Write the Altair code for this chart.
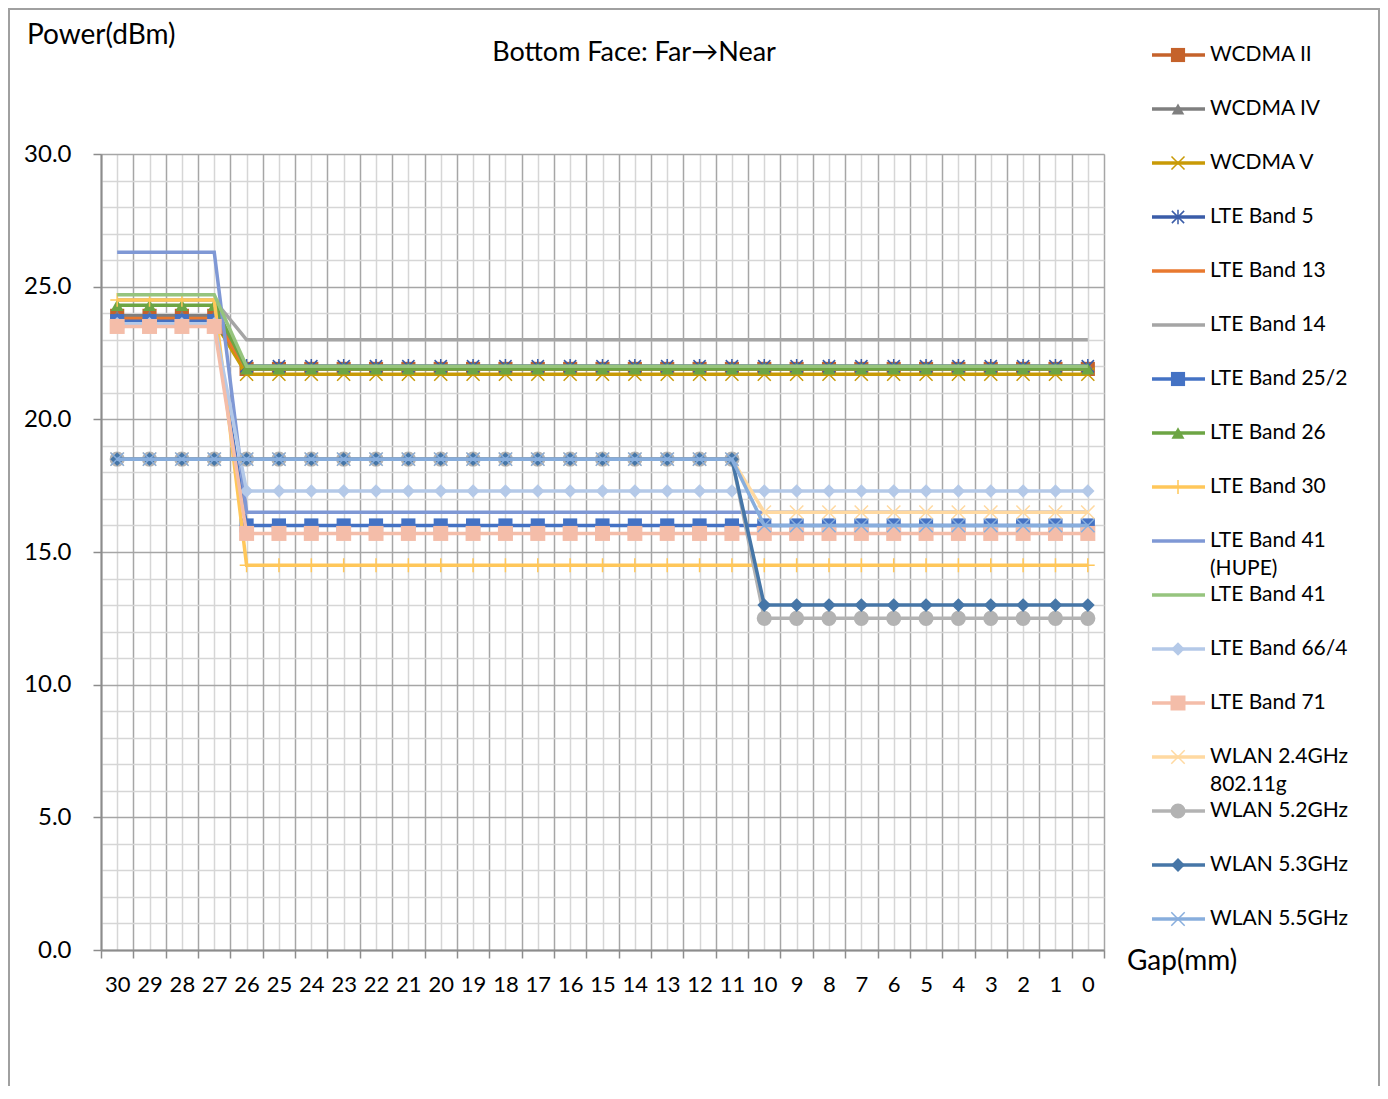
import altair as alt
import pandas as pd

FONT = "Lato"

# ---- data ----
gaps = [30, 29, 28, 27, 26, 25, 24, 23, 22, 21, 20, 19, 18, 17, 16, 15,
        14, 13, 12, 11, 10, 9, 8, 7, 6, 5, 4, 3, 2, 1, 0]

series_names = [
    "WCDMA II", "WCDMA IV", "WCDMA V", "LTE Band 5", "LTE Band 13",
    "LTE Band 14", "LTE Band 25/2", "LTE Band 26", "LTE Band 30",
    "LTE Band 41 (HUPE)", "LTE Band 41", "LTE Band 66/4", "LTE Band 71",
    "WLAN 2.4GHz 802.11g", "WLAN 5.2GHz", "WLAN 5.3GHz", "WLAN 5.5GHz",
]

wcdma_ii = [23.9, 23.9, 23.9, 23.9,
            21.9, 21.9, 21.9, 21.9, 21.9, 21.9, 21.9, 21.9, 21.9,
            21.9, 21.9, 21.9, 21.9, 21.9, 21.9, 21.9, 21.9, 21.9,
            21.9, 21.9, 21.9, 21.9, 21.9, 21.9, 21.9, 21.9, 21.9]
wcdma_iv = [23.9, 23.9, 23.9, 23.9,
            22.0, 22.0, 22.0, 22.0, 22.0, 22.0, 22.0, 22.0, 22.0,
            22.0, 22.0, 22.0, 22.0, 22.0, 22.0, 22.0, 22.0, 22.0,
            22.0, 22.0, 22.0, 22.0, 22.0, 22.0, 22.0, 22.0, 22.0]
wcdma_v = [23.7, 23.7, 23.7, 23.7,
           21.7, 21.7, 21.7, 21.7, 21.7, 21.7, 21.7, 21.7, 21.7,
           21.7, 21.7, 21.7, 21.7, 21.7, 21.7, 21.7, 21.7, 21.7,
           21.7, 21.7, 21.7, 21.7, 21.7, 21.7, 21.7, 21.7, 21.7]
lte_5 = [23.7, 23.7, 23.7, 23.7,
         22.0, 22.0, 22.0, 22.0, 22.0, 22.0, 22.0, 22.0, 22.0,
         22.0, 22.0, 22.0, 22.0, 22.0, 22.0, 22.0, 22.0, 22.0,
         22.0, 22.0, 22.0, 22.0, 22.0, 22.0, 22.0, 22.0, 22.0]
lte_13 = [23.8, 23.8, 23.8, 23.8,
          21.9, 21.9, 21.9, 21.9, 21.9, 21.9, 21.9, 21.9, 21.9,
          21.9, 21.9, 21.9, 21.9, 21.9, 21.9, 21.9, 21.9, 21.9,
          21.9, 21.9, 21.9, 21.9, 21.9, 21.9, 21.9, 21.9, 21.9]
lte_14 = [24.5, 24.5, 24.5, 24.5,
          23.0, 23.0, 23.0, 23.0, 23.0, 23.0, 23.0, 23.0, 23.0,
          23.0, 23.0, 23.0, 23.0, 23.0, 23.0, 23.0, 23.0, 23.0,
          23.0, 23.0, 23.0, 23.0, 23.0, 23.0, 23.0, 23.0, 23.0]
lte_25_2 = [23.7, 23.7, 23.7, 23.7,
            16.0, 16.0, 16.0, 16.0, 16.0, 16.0, 16.0, 16.0, 16.0,
            16.0, 16.0, 16.0, 16.0, 16.0, 16.0, 16.0, 16.0, 16.0,
            16.0, 16.0, 16.0, 16.0, 16.0, 16.0, 16.0, 16.0, 16.0]
lte_26 = [24.3, 24.3, 24.3, 24.3,
          21.9, 21.9, 21.9, 21.9, 21.9, 21.9, 21.9, 21.9, 21.9,
          21.9, 21.9, 21.9, 21.9, 21.9, 21.9, 21.9, 21.9, 21.9,
          21.9, 21.9, 21.9, 21.9, 21.9, 21.9, 21.9, 21.9, 21.9]
lte_30 = [24.5, 24.5, 24.5, 24.5,
          14.5, 14.5, 14.5, 14.5, 14.5, 14.5, 14.5, 14.5, 14.5,
          14.5, 14.5, 14.5, 14.5, 14.5, 14.5, 14.5, 14.5, 14.5,
          14.5, 14.5, 14.5, 14.5, 14.5, 14.5, 14.5, 14.5, 14.5]
lte_41_hupe = [26.3, 26.3, 26.3, 26.3,
               16.5, 16.5, 16.5, 16.5, 16.5, 16.5, 16.5, 16.5, 16.5,
               16.5, 16.5, 16.5, 16.5, 16.5, 16.5, 16.5, 16.5, 16.5,
               16.5, 16.5, 16.5, 16.5, 16.5, 16.5, 16.5, 16.5, 16.5]
lte_41 = [24.7, 24.7, 24.7, 24.7,
          22.0, 22.0, 22.0, 22.0, 22.0, 22.0, 22.0, 22.0, 22.0,
          22.0, 22.0, 22.0, 22.0, 22.0, 22.0, 22.0, 22.0, 22.0,
          22.0, 22.0, 22.0, 22.0, 22.0, 22.0, 22.0, 22.0, 22.0]
lte_66_4 = [23.6, 23.6, 23.6, 23.6,
            17.3, 17.3, 17.3, 17.3, 17.3, 17.3, 17.3, 17.3, 17.3,
            17.3, 17.3, 17.3, 17.3, 17.3, 17.3, 17.3, 17.3, 17.3,
            17.3, 17.3, 17.3, 17.3, 17.3, 17.3, 17.3, 17.3, 17.3]
lte_71 = [23.5, 23.5, 23.5, 23.5,
          15.7, 15.7, 15.7, 15.7, 15.7, 15.7, 15.7, 15.7, 15.7,
          15.7, 15.7, 15.7, 15.7, 15.7, 15.7, 15.7, 15.7, 15.7,
          15.7, 15.7, 15.7, 15.7, 15.7, 15.7, 15.7, 15.7, 15.7]
wlan_24 = [18.5, 18.5, 18.5, 18.5, 18.5, 18.5, 18.5, 18.5, 18.5, 18.5,
           18.5, 18.5, 18.5, 18.5, 18.5, 18.5, 18.5, 18.5, 18.5, 18.5,
           16.5, 16.5, 16.5, 16.5, 16.5, 16.5, 16.5, 16.5, 16.5, 16.5, 16.5]
wlan_52 = [18.5, 18.5, 18.5, 18.5, 18.5, 18.5, 18.5, 18.5, 18.5, 18.5,
           18.5, 18.5, 18.5, 18.5, 18.5, 18.5, 18.5, 18.5, 18.5, 18.5,
           12.5, 12.5, 12.5, 12.5, 12.5, 12.5, 12.5, 12.5, 12.5, 12.5, 12.5]
wlan_53 = [18.5, 18.5, 18.5, 18.5, 18.5, 18.5, 18.5, 18.5, 18.5, 18.5,
           18.5, 18.5, 18.5, 18.5, 18.5, 18.5, 18.5, 18.5, 18.5, 18.5,
           13.0, 13.0, 13.0, 13.0, 13.0, 13.0, 13.0, 13.0, 13.0, 13.0, 13.0]
wlan_55 = [18.5, 18.5, 18.5, 18.5, 18.5, 18.5, 18.5, 18.5, 18.5, 18.5,
           18.5, 18.5, 18.5, 18.5, 18.5, 18.5, 18.5, 18.5, 18.5, 18.5,
           16.0, 16.0, 16.0, 16.0, 16.0, 16.0, 16.0, 16.0, 16.0, 16.0, 16.0]

series_values = [wcdma_ii, wcdma_iv, wcdma_v, lte_5, lte_13, lte_14, lte_25_2,
                 lte_26, lte_30, lte_41_hupe, lte_41, lte_66_4, lte_71,
                 wlan_24, wlan_52, wlan_53, wlan_55]

# legend labels (text lines)
legend_labels = [
    ["WCDMA II"], ["WCDMA IV"], ["WCDMA V"], ["LTE Band 5"], ["LTE Band 13"],
    ["LTE Band 14"], ["LTE Band 25/2"], ["LTE Band 26"], ["LTE Band 30"],
    ["LTE Band 41", "(HUPE)"], ["LTE Band 41"], ["LTE Band 66/4"],
    ["LTE Band 71"], ["WLAN 2.4GHz", "802.11g"], ["WLAN 5.2GHz"],
    ["WLAN 5.3GHz"], ["WLAN 5.5GHz"],
]

# ---- styles ----
colors = ["#C5622B", "#7F7F7F", "#C99A06", "#3A5CA8", "#E8792F",
          "#A5A5A5", "#4472C4", "#6DA544", "#FFC75A", "#7F98D5",
          "#96C47E", "#B4C9E8", "#F4BDA9", "#FFD9A1", "#B3B3B3",
          "#4676A7", "#88AEDD"]
XSHAPE = "M-1,-1L1,1M-1,1L1,-1"
STAR = "M-1,-1L1,1M-1,1L1,-1M0,-1.2L0,1.2"
PLUS = "M0,-1L0,1M-1,0L1,0"
# (shape, size, filled)
markers = [("square", 200, True), ("triangle-up", 160, True),
           (XSHAPE, 170, False), (STAR, 150, False), None, None,
           ("square", 200, True), ("triangle-up", 170, True),
           (PLUS, 190, False), None, None, ("diamond", 180, True),
           ("square", 225, True), (XSHAPE, 180, False),
           ("circle", 230, True), ("diamond", 190, True),
           (XSHAPE, 180, False)]

rows = []
for name, vals in zip(series_names, series_values):
    for g, v in zip(gaps, vals):
        rows.append({"series": name, "gap": g, "value": v})
df = pd.DataFrame(rows)
one = pd.DataFrame({"k": [0]})

W, H = 1003, 796

x_ticks = [30.5 - 0.5 * i for i in range(63)]
xaxis = alt.Axis(
    values=x_ticks, title=None,
    labelExpr="datum.value % 1 === 0 ? format(datum.value, 'd') : ''",
    labelOverlap=False, labelFlush=False, labelFont=FONT, labelFontSize=22,
    labelColor="#000000", labelPadding=16, tickSize=8, tickWidth=1.5,
    tickColor={"condition": {"test": "datum.value % 1 !== 0", "value": "#8C8C8C"},
               "value": "transparent"},
    grid=True, gridWidth=1.5,
    gridColor={"condition": {"test": "datum.value % 1 !== 0", "value": "#A6A6A6"},
               "value": "#D6D6D6"},
    domainColor="#8C8C8C", domainWidth=2,
)
yaxis = alt.Axis(
    values=list(range(0, 31)), title=None,
    labelExpr="datum.value % 5 === 0 ? format(datum.value, '.1f') : ''",
    labelOverlap=False, labelFlush=False, labelFont=FONT, labelFontSize=24,
    labelColor="#000000", labelPadding=22, tickSize=8, tickWidth=1.5,
    tickColor={"condition": {"test": "datum.value % 5 === 0", "value": "#8C8C8C"},
               "value": "transparent"},
    grid=True, gridWidth=1.5,
    gridColor={"condition": {"test": "datum.value % 5 === 0", "value": "#A6A6A6"},
               "value": "#D6D6D6"},
    domainColor="#8C8C8C", domainWidth=2,
)
X = alt.X("gap:Q", scale=alt.Scale(domain=[30.5, -0.5], nice=False), axis=xaxis)
Y = alt.Y("value:Q", scale=alt.Scale(domain=[0, 30], nice=False, zero=True), axis=yaxis)

layers = []
# outer frame
layers.append(alt.Chart(one).mark_rect(fillOpacity=0, stroke="#A0A0A0", strokeWidth=2).encode(
    x=alt.value(-92), x2=alt.value(1278), y=alt.value(-145), y2=alt.value(1000)))

for i, name in enumerate(series_names):
    base = alt.Chart(df).transform_filter(alt.datum.series == name)
    layers.append(base.mark_line(color=colors[i], strokeWidth=3.5).encode(x=X, y=Y))
    m = markers[i]
    if m is not None:
        shape, size, filled = m
        if filled:
            pt = base.mark_point(shape=shape, size=size, filled=True, color=colors[i], opacity=1)
        else:
            pt = base.mark_point(shape=shape, size=size, filled=False, color=colors[i],
                                 strokeWidth=1.5, opacity=1)
        layers.append(pt.encode(x=X, y=Y))

# legend
for i, name in enumerate(series_names):
    yy = -99 + 54 * i
    layers.append(alt.Chart(one).mark_rule(color=colors[i], strokeWidth=3.5).encode(
        x=alt.value(1051), x2=alt.value(1104), y=alt.value(yy)))
    m = markers[i]
    if m is not None:
        shape, size, filled = m
        if filled:
            pt = alt.Chart(one).mark_point(shape=shape, size=size, filled=True, color=colors[i], opacity=1)
        else:
            pt = alt.Chart(one).mark_point(shape=shape, size=size, filled=False, color=colors[i],
                                           strokeWidth=1.5, opacity=1)
        layers.append(pt.encode(x=alt.value(1077), y=alt.value(yy)))
    for j, line in enumerate(legend_labels[i]):
        layers.append(alt.Chart(one).mark_text(
            text=line, align="left", baseline="middle", font=FONT, fontSize=21, color="#000000"
        ).encode(x=alt.value(1109), y=alt.value(yy + 28 * j)))

# titles
layers.append(alt.Chart(one).mark_text(
    text="Power(dBm)", align="left", baseline="middle", font=FONT, fontSize=28, color="#000000"
).encode(x=alt.value(-74), y=alt.value(-118)))
layers.append(alt.Chart(one).mark_text(
    text="Bottom Face: Far\u2192Near", align="center", baseline="middle", font=FONT, fontSize=27,
    color="#000000"
).encode(x=alt.value(533), y=alt.value(-101)))
layers.append(alt.Chart(one).mark_text(
    text="Gap(mm)", align="left", baseline="middle", font=FONT, fontSize=28, color="#000000"
).encode(x=alt.value(1026), y=alt.value(808)))

chart = alt.layer(*layers).properties(
    width=W, height=H,
    autosize=alt.AutoSizeParams(type="none"),
    padding={"left": 93, "top": 146, "right": 276, "bottom": 136},
    background="#FFFFFF",
).configure_view(strokeWidth=0).configure(font=FONT)

chart.save("out.html", embed_options={"renderer": "svg", "actions": False})
